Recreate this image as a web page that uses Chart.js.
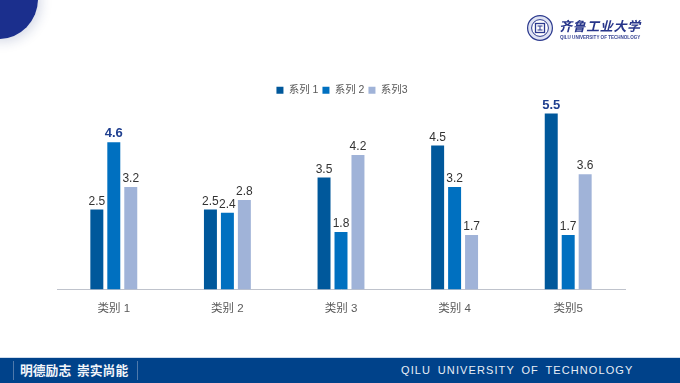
<!DOCTYPE html>
<html><head><meta charset="utf-8">
<script src="https://cdn.jsdelivr.net/npm/chart.js@4"></script>
<style>
html,body{margin:0;padding:0;background:#fff;width:680px;height:383px;overflow:hidden;font-family:"Liberation Sans","Noto Sans CJK SC",sans-serif}
#stage{position:relative;width:680px;height:383px;overflow:hidden}
canvas{position:absolute;left:0;top:0}
#corner{position:absolute;left:-40px;top:-41px;width:78px;height:80px;border-radius:50%;background:#1b2f8d;box-shadow:3px 3px 12px rgba(30,50,120,.18)}
#footer{position:absolute;left:0;top:357px;width:680px;height:26px;background:#00428a;border-top:1px solid #cfdcec;box-sizing:border-box;color:#fff}
.sep{position:absolute;top:3px;width:1px;height:19px;background:#4f79ab}
#slogan{position:absolute;left:20px;top:3px;font:bold 12.8px/18px "Noto Sans CJK SC";white-space:pre;color:#f2f5fa}
#en{position:absolute;left:401px;top:4px;font:11px/17px "Liberation Sans";letter-spacing:1.1px;word-spacing:2.6px;white-space:pre;color:#e8eef6}
#logo{position:absolute;left:526px;top:14px}
#cn{position:absolute;left:559px;top:16px;font:bold 13px/20px "Noto Sans CJK SC";letter-spacing:.6px;color:#27358a;white-space:pre;font-style:italic}
#uni{position:absolute;left:560px;top:34px;font:bold 4.55px/8px "Liberation Sans";color:#3a4795;white-space:pre}
</style></head><body>
<div id="stage">
<canvas id="c" width="680" height="383"></canvas>
<div id="corner"></div>
<svg id="logo" width="28" height="28" viewBox="0 0 28 28">
<circle cx="14" cy="14" r="12.4" fill="#dfe3f3" stroke="#2c3a8e" stroke-width="1.2"/>
<circle cx="14" cy="14" r="8.4" fill="#fff" stroke="#2c3a8e" stroke-width="1"/>
<rect x="9.5" y="9.5" width="9" height="9" fill="none" stroke="#2c3a8e" stroke-width="1.3"/>
<path d="M11.5 12h5M14 12v4M11.5 16h5" stroke="#2c3a8e" stroke-width="1" fill="none"/>
</svg>
<div id="cn">齐鲁工业大学</div>
<div id="uni">QILU UNIVERSITY OF TECHNOLOGY</div>
<div id="footer">
<div class="sep" style="left:13px"></div>
<div id="slogan">明德励志  崇实尚能</div>
<div class="sep" style="left:137px"></div>
<div id="en">QILU UNIVERSITY OF TECHNOLOGY</div>
</div>
</div>
<script>
const categories = ["类别 1","类别 2","类别 3","类别 4","类别5"];
const seriesNames = ["系列 1","系列 2","系列3"];
const series1 = [2.5,2.5,3.5,4.5,5.5];
const series2 = [4.6,2.4,1.8,3.2,1.7];
const series3 = [3.2,2.8,4.2,1.7,3.6];
const seriesColors = ["#00589b","#0070c0","#a0b3d8"];
const emphasised = {"0:4":true,"1:0":true};

const valueLabels = {
  id:"valueLabels",
  afterLayout(chart){ chart.legend.top += 8; chart.legend.left += 2; },
  afterDatasetsDraw(chart){
    const ctx = chart.ctx;
    ctx.save();
    ctx.textAlign="center";
    ctx.textBaseline="alphabetic";
    chart.data.datasets.forEach((ds,d)=>{
      chart.getDatasetMeta(d).data.forEach((bar,i)=>{
        const strong = emphasised[d+":"+i];
        ctx.font = strong ? 'bold 13px "Liberation Sans"' : '12px "Liberation Sans"';
        ctx.fillStyle = strong ? "#1f3f8f" : "#333333";
        ctx.fillText(ds.data[i].toFixed(1), bar.x, bar.y-5);
      });
    });
    ctx.restore();
  }
};

new Chart(document.getElementById("c"),{
  type:"bar",
  data:{labels:categories,datasets:[series1,series2,series3].map((v,i)=>({
    label:seriesNames[i],data:v,backgroundColor:seriesColors[i],
    categoryPercentage:0.448,barPercentage:0.765
  }))},
  options:{
    responsive:false,animation:false,
    layout:{padding:{left:57,right:55,top:73,bottom:0}},
    plugins:{
      legend:{position:"top",labels:{boxWidth:7,boxHeight:7,padding:4,color:"#595959",
        font:{family:'"Liberation Sans","Noto Sans CJK SC"',size:10.5}}},
      tooltip:{enabled:false},title:{display:false}
    },
    scales:{
      x:{
        grid:{display:false,drawTicks:false},
        border:{display:true,color:"#bfc3cc",width:1},
        ticks:{color:"#595959",padding:12,maxRotation:0,font:{family:'"Liberation Sans","Noto Sans CJK SC"',size:11.5}},
        afterFit(s){s.height=93.5;}
      },
      y:{display:false,min:0,max:6}
    }
  },
  plugins:[valueLabels]
});
</script>
</body></html>
